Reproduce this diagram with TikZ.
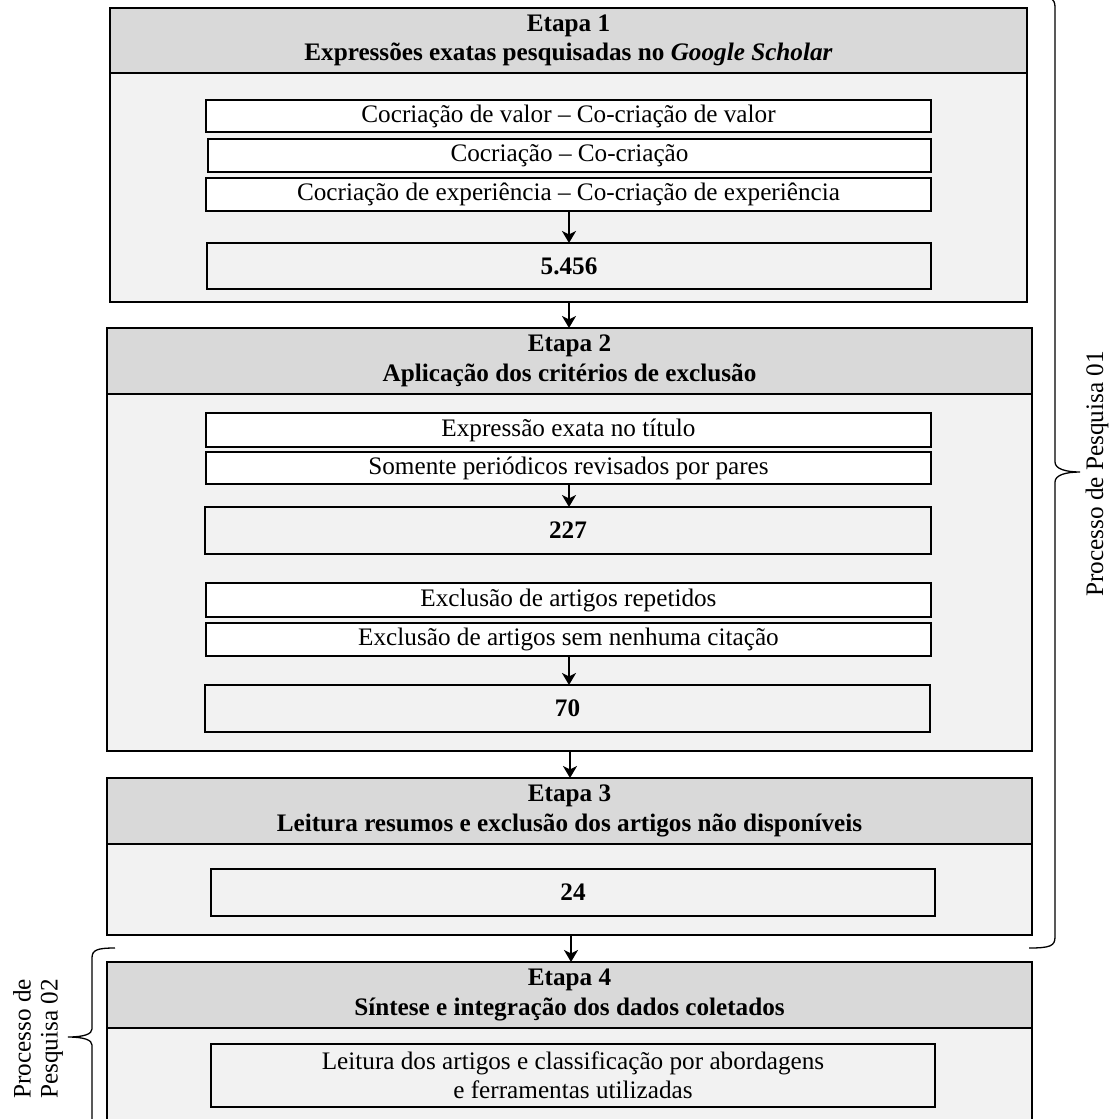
\documentclass[tikz,border=0pt]{standalone}
\usepackage{fontspec}
\setmainfont{Liberation Serif}
\usetikzlibrary{arrows.meta}
\definecolor{hdrgray}{HTML}{D9D9D9}
\definecolor{bodygray}{HTML}{F2F2F2}
% \boxnode{style}{name}{x1}{y1}{x2}{y2}{text}: rectangle node spanning two corners
\newcommand\boxnode[7]{%
  \pgfmathsetmacro\bxw{#5-#3}\pgfmathsetmacro\bxh{#6-#4}%
  \pgfmathsetmacro\bxc{(#3+#5)/2}\pgfmathsetmacro\byc{(#4+#6)/2}%
  \node[#1, minimum width=\bxw pt, minimum height=\bxh pt, anchor=center] (#2) at (\bxc,\byc) {#7};}
\begin{document}
\begin{tikzpicture}[x=1pt,y=-1pt,
  font=\fontsize{25.2}{29}\selectfont,
  outer/.style={draw=black, line width=1.5pt, inner sep=0pt, outer sep=0pt},
  hdr/.style={outer, fill=hdrgray, align=center, font=\fontsize{25.2}{29.5}\selectfont\bfseries},
  body/.style={outer, fill=bodygray},
  item/.style={draw=black, line width=1.3pt, fill=white, inner sep=0pt, outer sep=0pt},
  count/.style={item, fill=bodygray, font=\fontsize{25.2}{29}\selectfont\bfseries},
  flow/.style={line width=2.6pt, -{Stealth[length=12pt,width=14pt,inset=3.5pt]}},
  brc/.style={line width=1.3pt},
]
\useasboundingbox (0,0) rectangle (1114,1119);
\clip (0,0) rectangle (1114,1119);

% Etapa 1
\boxnode{body}{e1b}{110}{73}{1027}{302}{}
\boxnode{hdr}{e1h}{110}{8}{1027}{73}{Etapa 1\\Expressões exatas pesquisadas no \textit{Google Scholar}}
\boxnode{item}{a1}{206}{100}{931}{132}{Cocriação de valor -- Co-criação de valor}
\boxnode{item}{a2}{208}{139}{931}{172}{Cocriação -- Co-criação}
\boxnode{item}{a3}{206}{178}{931}{211}{Cocriação de experiência -- Co-criação de experiência}
\boxnode{count}{n1}{207}{243}{931}{289}{5.456}
\draw[flow] (a3.south -| 569,0) -- (n1.north -| 569,0);

% Etapa 2
\boxnode{body}{e2b}{107}{394}{1032}{751}{}
\boxnode{hdr}{e2h}{107}{328}{1032}{394}{Etapa 2\\Aplicação dos critérios de exclusão}
\boxnode{item}{b1}{206}{413}{931}{447}{Expressão exata no título}
\boxnode{item}{b2}{206}{452}{931}{484}{Somente periódicos revisados por pares}
\boxnode{count}{n2}{205}{507}{931}{554}{227}
\boxnode{item}{b3}{206}{583}{931}{617}{Exclusão de artigos repetidos}
\boxnode{item}{b4}{206}{623}{931}{656}{Exclusão de artigos sem nenhuma citação}
\boxnode{count}{n3}{205}{685}{930}{732}{70}
\draw[flow] (b2.south -| 569,0) -- (n2.north -| 569,0);
\draw[flow] (b4.south -| 569,0) -- (n3.north -| 569,0);

% Etapa 3
\boxnode{body}{e3b}{107}{844}{1032}{935}{}
\boxnode{hdr}{e3h}{107}{778}{1032}{844}{Etapa 3\\Leitura resumos e exclusão dos artigos não disponíveis}
\boxnode{count}{n4}{211}{869}{935}{916}{24}

% Etapa 4
\boxnode{body}{e4b}{107}{1028}{1032}{1140}{}
\boxnode{hdr}{e4h}{107}{962}{1032}{1028}{Etapa 4\\Síntese e integração dos dados coletados}
\boxnode{item, fill=bodygray, align=center}{c1}{211}{1044}{935}{1107}{Leitura dos artigos e classificação por abordagens\\e ferramentas utilizadas}

% links between stages
\draw[flow] (e1b.south -| 569,0) -- (e2h.north -| 569,0);
\draw[flow] (e2b.south -| 570,0) -- (e3h.north -| 570,0);
\draw[flow] (e3b.south -| 571,0) -- (e4h.north -| 571,0);

% brace for the first research process
\draw[brc] (1029,948) .. controls (1050,948) and (1055,946) .. (1055,937)
  -- (1055,482) .. controls (1055,475) and (1066,472) .. (1080,472)
  .. controls (1066,472) and (1055,469) .. (1055,462)
  -- (1055,7) .. controls (1055,-2) and (1050,-4) .. (1029,-4);
\node[rotate=90] (p1) at (1097,474) {Processo de Pesquisa 01};

% brace for the second research process
\draw[brc] (115,948) .. controls (97,948) and (92,950) .. (92,958)
  -- (92,1029) .. controls (92,1034) and (84,1037) .. (68,1037)
  .. controls (84,1037) and (92,1040) .. (92,1045)
  -- (92,1130);
\node[rotate=90, align=center, font=\fontsize{25.2}{27}\selectfont] (p2) at (38,1039) {Processo de\\Pesquisa 02};
\end{tikzpicture}
\end{document}
